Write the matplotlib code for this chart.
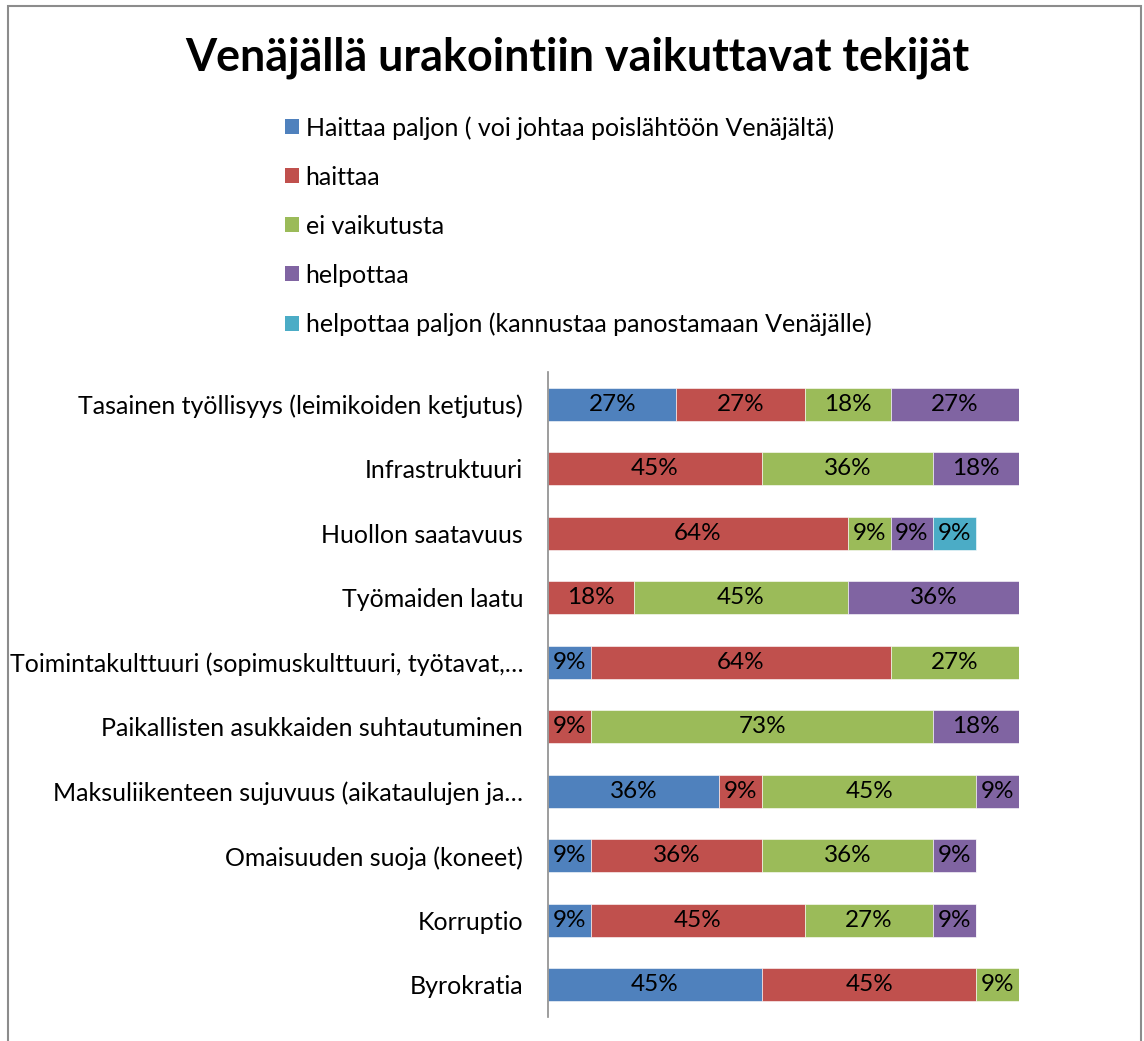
import matplotlib
matplotlib.use("Agg")
import matplotlib.pyplot as plt
from matplotlib.patches import Patch, Rectangle

plt.rcParams['font.family'] = ['Lato', 'DejaVu Sans']

title = "Venäjällä urakointiin vaikuttavat tekijät"
categories = [
    "Tasainen työllisyys (leimikoiden ketjutus)",
    "Infrastruktuuri",
    "Huollon saatavuus",
    "Työmaiden laatu",
    "Toimintakulttuuri (sopimuskulttuuri, työtavat,…",
    "Paikallisten asukkaiden suhtautuminen",
    "Maksuliikenteen sujuvuus (aikataulujen ja…",
    "Omaisuuden suoja (koneet)",
    "Korruptio",
    "Byrokratia",
]
series_names = [
    "Haittaa paljon ( voi johtaa poislähtöön Venäjältä)",
    "haittaa",
    "ei vaikutusta",
    "helpottaa",
    "helpottaa paljon (kannustaa panostamaan Venäjälle)",
]
haittaa_paljon = [27.27, 0, 0, 0, 9.09, 0, 36.36, 9.09, 9.09, 45.45]
haittaa = [27.27, 45.45, 63.64, 18.18, 63.64, 9.09, 9.09, 36.36, 45.45, 45.45]
ei_vaikutusta = [18.18, 36.36, 9.09, 45.45, 27.27, 72.73, 45.45, 36.36, 27.27, 9.09]
helpottaa = [27.27, 18.18, 9.09, 36.36, 0, 18.18, 9.09, 9.09, 9.09, 0]
helpottaa_paljon = [0, 0, 9.09, 0, 0, 0, 0, 0, 0, 0]
series = [haittaa_paljon, haittaa, ei_vaikutusta, helpottaa, helpottaa_paljon]
colors = ["#4F81BD", "#C0504D", "#9BBB59", "#8064A2", "#4BACC6"]

W, H = 1144, 1041
fig = plt.figure(figsize=(W / 100, H / 100), dpi=100)

# chart border
fig.patches.append(Rectangle((8 / W, -0.01), (1141 - 8) / W, 1 - 6 / H + 0.01,
                             transform=fig.transFigure, fill=False,
                             edgecolor="#8c8c8c", linewidth=1.5))

ax = fig.add_axes([548 / W, 1 - 1017 / H, (1019 - 548) / W, (1017 - 372) / H])
y = list(range(len(categories)))
left = [0] * len(categories)
for vals, c in zip(series, colors):
    bars = ax.barh(y, vals, left=left, height=0.51, color=c, edgecolor="white", linewidth=0.4)
    labels = [f"{v:.0f}%" if v > 0 else "" for v in vals]
    ax.bar_label(bars, labels=labels, label_type="center", fontsize=17.5, color="black")
    left = [a + b for a, b in zip(left, vals)]

ax.set_xlim(0, 100)
ax.set_ylim(len(categories) - 0.5, -0.5)
ax.set_yticks(y)
ax.set_yticklabels(categories, fontsize=18)
ax.tick_params(axis="y", length=0, pad=18)
ax.set_xticks([])
for s in ["top", "right", "bottom"]:
    ax.spines[s].set_visible(False)
ax.spines["left"].set_color("#8c8c8c")
ax.spines["left"].set_linewidth(1.2)

fig.text(577 / W, 1 - 58 / H, title, ha="center", va="center",
         fontsize=32.3, fontweight="bold")

handles = [Patch(facecolor=c, edgecolor="none") for c in colors]
fig.legend(handles, series_names, loc="upper left",
           bbox_to_anchor=(285 / W, 1 - 116 / H), frameon=False,
           fontsize=18, handlelength=0.56, handleheight=0.56,
           handletextpad=0.26, labelspacing=1.04, borderpad=0, borderaxespad=0)

fig.savefig("out.png", dpi=100)
